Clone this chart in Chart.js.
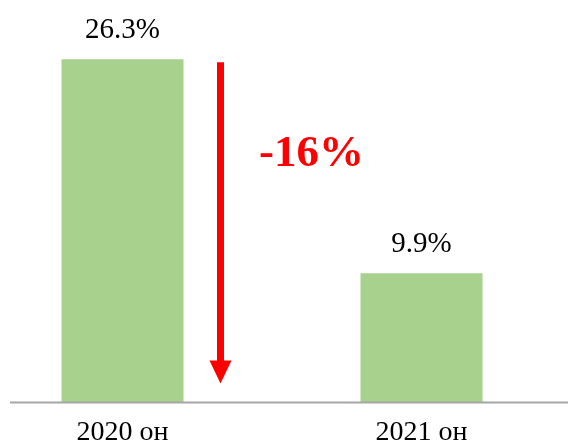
<!DOCTYPE html>
<html>
<head>
<meta charset="utf-8">
<script src="https://cdn.jsdelivr.net/npm/chart.js@4.4.0/dist/chart.umd.min.js"></script>
<style>
    html, body { margin: 0; padding: 0; background: #ffffff; overflow: hidden; }
    #wrap { width: 568px; height: 444px; overflow: hidden; position: relative; }
    /* the original picture is cropped: the plot runs a little past both edges */
    #chartShare { position: absolute; left: -27px; top: 0; }
</style>
</head>
<body>
<div id="wrap"><canvas id="chartShare" width="598" height="462"></canvas></div>
<script>
// Data
const years = ["2020 он", "2021 он"];
const shares = [26.3, 9.9];
const valueLabels = ["26.3%", "9.9%"];
const changeLabel = "-16%";

const serif = "'Liberation Serif', 'Times New Roman', serif";
const cropLeft = 27;

// Value labels above the bars
const valueLabelPlugin = {
    id: "valueLabels",
    afterDatasetsDraw(chart) {
        const ctx = chart.ctx;
        const meta = chart.getDatasetMeta(0);
        ctx.save();
        ctx.font = "29px " + serif;
        ctx.fillStyle = "#000000";
        ctx.textAlign = "center";
        ctx.textBaseline = "alphabetic";
        meta.data.forEach(function (bar, i) {
            ctx.fillText(valueLabels[i], bar.x, bar.y - 21);
        });
        ctx.restore();
    },
};

// Baseline, red arrow and change text
const annotationPlugin = {
    id: "arrowNote",
    afterDraw(chart) {
        const ctx = chart.ctx;
        const x = chart.scales.x;
        const y = chart.scales.y;
        const base = y.getPixelForValue(0);

        ctx.save();
        // axis line
        ctx.strokeStyle = "#a6a6a6";
        ctx.lineWidth = 2;
        ctx.beginPath();
        ctx.moveTo(cropLeft + 10, base);
        ctx.lineTo(chart.width, base);
        ctx.stroke();

        // arrow
        const ax = x.getPixelForValue(0) + 98;
        const top = y.getPixelForValue(shares[0]) + 3;
        const tip = base - 19;
        ctx.strokeStyle = "#ff0000";
        ctx.fillStyle = "#ff0000";
        ctx.lineWidth = 7;
        ctx.beginPath();
        ctx.moveTo(ax, top);
        ctx.lineTo(ax, tip - 20);
        ctx.stroke();
        ctx.beginPath();
        ctx.moveTo(ax - 11, tip - 23);
        ctx.lineTo(ax + 11, tip - 23);
        ctx.lineTo(ax, tip);
        ctx.closePath();
        ctx.fill();

        // change text
        ctx.font = "bold 45px " + serif;
        ctx.textAlign = "center";
        ctx.textBaseline = "alphabetic";
        ctx.fillText(changeLabel, ax + 91, y.getPixelForValue(18.1));
        ctx.restore();
    },
};

new Chart(document.getElementById("chartShare"), {
    type: "bar",
    data: {
        labels: years,
        datasets: [
            {
                data: shares,
                backgroundColor: "#a9d18e",
                borderWidth: 0,
                categoryPercentage: 1,
                barPercentage: 0.408,
            },
        ],
    },
    options: {
        responsive: false,
        animation: false,
        layout: {
            padding: { left: 0, right: 0, top: 11, bottom: 0 },
        },
        plugins: {
            legend: { display: false },
            tooltip: { enabled: false },
        },
        scales: {
            y: {
                display: false,
                min: 0,
                max: 30,
            },
            x: {
                grid: { display: false, drawTicks: false },
                border: { display: false },
                ticks: {
                    padding: 13,
                    color: "#000000",
                    font: { family: serif, size: 28 },
                },
            },
        },
    },
    plugins: [valueLabelPlugin, annotationPlugin],
});
</script>
</body>
</html>
